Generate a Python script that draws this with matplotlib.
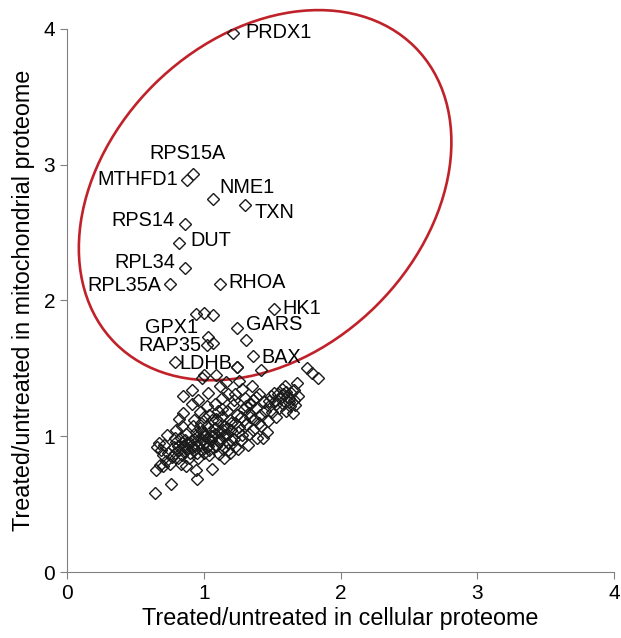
import numpy as np
import matplotlib
matplotlib.use("Agg")
import matplotlib.pyplot as plt
from matplotlib.patches import Ellipse

plt.rcParams['font.family'] = ['Liberation Sans', 'DejaVu Sans']

# labelled proteins (cellular ratio, mitochondrial ratio)
genes = ['PRDX1', 'RPS15A', 'MTHFD1', 'NME1', 'TXN', 'RPS14', 'DUT', 'RPL34',
         'RPL35A', 'RHOA', 'HK1', 'GARS', 'GPX1', 'RAP35', 'LDHB', 'BAX']
gene_x = [1.21, 0.92, 0.88, 1.07, 1.30, 0.86, 0.82, 0.86,
          0.75, 1.12, 1.51, 1.24, 1.03, 1.02, 0.79, 1.36]
gene_y = [3.97, 2.93, 2.89, 2.75, 2.70, 2.56, 2.42, 2.24,
          2.12, 2.12, 1.94, 1.80, 1.73, 1.67, 1.55, 1.59]

# unlabelled proteins
other_x = [0.64, 0.76, 0.65, 0.68, 0.66, 0.67, 0.70, 0.72, 0.73, 0.69, 0.71, 0.74, 0.75, 0.77, 0.70,
           0.78, 0.79, 0.80, 0.81, 0.82, 0.83, 0.84, 0.85, 0.86, 0.87, 0.88, 0.89, 0.80, 0.83, 0.86,
           0.88, 0.79, 0.84, 0.82, 0.85, 0.85, 0.91, 0.91, 0.90, 0.87, 0.81,
           0.92, 0.93, 0.94, 0.95, 0.95, 0.96, 0.97, 0.98, 0.99, 1.00, 1.01, 1.02, 1.03, 1.04, 1.05,
           0.94, 0.95, 0.93, 0.97, 1.00, 0.99, 1.02, 1.04, 0.96, 1.00, 1.03, 0.92, 0.98, 1.01, 0.97,
           1.05, 0.96, 1.03,
           1.06, 1.07, 1.08, 1.09, 1.10, 1.11, 1.12, 1.12, 1.13, 1.14, 1.15, 1.16, 1.17, 1.18, 1.19,
           1.20, 1.21, 1.22, 1.23, 1.24, 1.08, 1.11, 1.15, 1.19, 1.23, 1.13, 1.18, 1.10, 1.06, 1.14,
           1.20, 1.07, 1.17, 1.22, 1.09, 1.16, 1.24,
           1.25, 1.26, 1.27, 1.28, 1.29, 1.30, 1.31, 1.32, 1.33, 1.34, 1.35, 1.36, 1.37, 1.38, 1.39,
           1.40, 1.41, 1.42, 1.43, 1.44, 1.45, 1.23, 1.28, 1.33, 1.36, 1.40, 1.27, 1.31, 1.38, 1.26,
           1.46, 1.47, 1.48, 1.49, 1.50, 1.51, 1.52, 1.53, 1.55, 1.56, 1.57, 1.58, 1.59, 1.60, 1.61,
           1.62, 1.63, 1.64, 1.65, 1.66, 1.67, 1.68, 1.69, 1.54, 1.60, 1.66,
           1.755, 1.79, 1.835,
           0.94, 1.00, 1.07, 1.31, 1.24, 1.42, 1.00, 1.07,
           # extra points in the dense core
           0.90, 0.93, 0.96, 0.99, 1.02, 1.05, 1.08, 1.11, 1.14, 1.17, 1.20, 1.04, 1.09, 1.13,
           1.18, 1.25, 1.29, 1.34, 0.87, 0.84, 1.48, 1.53, 1.62, 1.58]
other_y = [0.58, 0.65, 0.75, 0.79, 0.92, 0.95, 0.86, 0.82, 1.01, 0.90, 0.94, 0.88, 0.80, 0.85, 0.78,
           0.92, 0.88, 0.96, 0.84, 0.90, 0.99, 0.86, 0.93, 0.89, 1.02, 0.95, 0.84, 1.05, 0.80, 0.97,
           0.91, 0.99, 1.08, 1.13, 1.17, 1.30, 1.24, 1.34, 0.88, 0.78, 0.93,
           0.92, 0.98, 1.03, 0.88, 0.94, 1.00, 1.06, 0.91, 0.97, 1.02, 0.95, 1.08, 0.99, 0.90, 1.04,
           0.75, 0.69, 1.12, 1.18, 1.14, 1.43, 1.22, 1.16, 0.84, 0.88, 0.93, 1.08, 1.10, 1.00, 0.95,
           0.97, 1.27, 1.32,
           0.76, 1.00, 1.06, 0.93, 1.11, 0.98, 1.37, 1.04, 1.15, 0.91, 1.08, 1.01, 1.19, 0.95, 1.12,
           1.05, 1.23, 0.98, 1.10, 1.16, 1.24, 0.87, 0.84, 0.88, 0.92, 1.28, 1.31, 1.19, 1.12, 1.00,
           0.97, 0.92, 1.06, 1.27, 1.45, 1.40, 1.51,
           0.91, 1.07, 1.14, 1.01, 1.20, 1.28, 1.09, 0.94, 1.17, 1.24, 1.37, 1.05, 1.13, 1.21, 0.99,
           1.31, 1.16, 1.08, 0.99, 1.25, 1.19, 1.31, 1.35, 1.02, 1.27, 1.10, 0.97, 1.22, 1.29, 1.41,
           1.03, 1.11, 1.22, 1.30, 1.18, 1.32, 1.26, 1.14, 1.21, 1.28, 1.35, 1.24, 1.37, 1.19, 1.29,
           1.25, 1.22, 1.32, 1.17, 1.27, 1.23, 1.39, 1.30, 1.31, 1.33, 1.34,
           1.505, 1.47, 1.43,
           1.90, 1.91, 1.89, 1.71, 1.51, 1.49, 1.45, 1.69,
           0.95, 0.90, 0.97, 1.04, 0.92, 1.00, 1.02, 0.96, 1.05, 1.02, 1.10, 0.86, 1.13, 1.20,
           0.90, 1.03, 1.12, 1.14, 0.92, 0.95, 1.26, 1.24, 1.28, 1.31]

fig = plt.figure(figsize=(6.21, 6.38), dpi=100)
ax = fig.add_axes([0.108, 0.103, 0.881, 0.852])

ax.plot(other_x + gene_x, other_y + gene_y, linestyle='none', marker='D',
        markersize=5.8, markerfacecolor='none', markeredgecolor='#1a1a1a',
        markeredgewidth=1.0)

# offsets of each label from its point, in points
label_pos = {
    'PRDX1': (9, 0, 'left'), 'RPS15A': (-4, 15, 'center'), 'MTHFD1': (-7, 0, 'right'),
    'NME1': (4, 8, 'left'), 'TXN': (7, -5, 'left'), 'RPS14': (-7, 3, 'right'),
    'DUT': (8, 2, 'left'), 'RPL34': (-7, 4, 'right'), 'RPL35A': (-6, -1, 'right'),
    'RHOA': (6, 1, 'left'), 'HK1': (6, 0, 'left'), 'GARS': (7, 2, 'left'),
    'GPX1': (-7, 7, 'right'), 'RAP35': (-4, 0, 'right'), 'LDHB': (3, -1, 'left'),
    'BAX': (6, -1, 'left'),
}
for g, x, y in zip(genes, gene_x, gene_y):
    dx, dy, ha = label_pos[g]
    ax.annotate(g, (x, y), xytext=(dx, dy), textcoords='offset points',
                ha=ha, va='center', fontsize=14.3)

ax.add_patch(Ellipse((1.448, 2.775), width=3.09, height=2.30, angle=45,
                     fill=False, edgecolor='#C0222A', linewidth=1.9, clip_on=False))

ax.set_xlim(0, 4)
ax.set_ylim(0, 4)
ax.set_xticks([0, 1, 2, 3, 4])
ax.set_yticks([0, 1, 2, 3, 4])
for side in ['top', 'right']:
    ax.spines[side].set_visible(False)
for side in ['left', 'bottom']:
    ax.spines[side].set_color('#808080')
ax.tick_params(colors='#808080', labelcolor='black', labelsize=15, length=5)
ax.set_xlabel('Treated/untreated in cellular proteome', fontsize=16.8, labelpad=3)
ax.set_ylabel('Treated/untreated in mitochondrial proteome', fontsize=16.8, labelpad=6)

fig.savefig('out.png', dpi=100)
